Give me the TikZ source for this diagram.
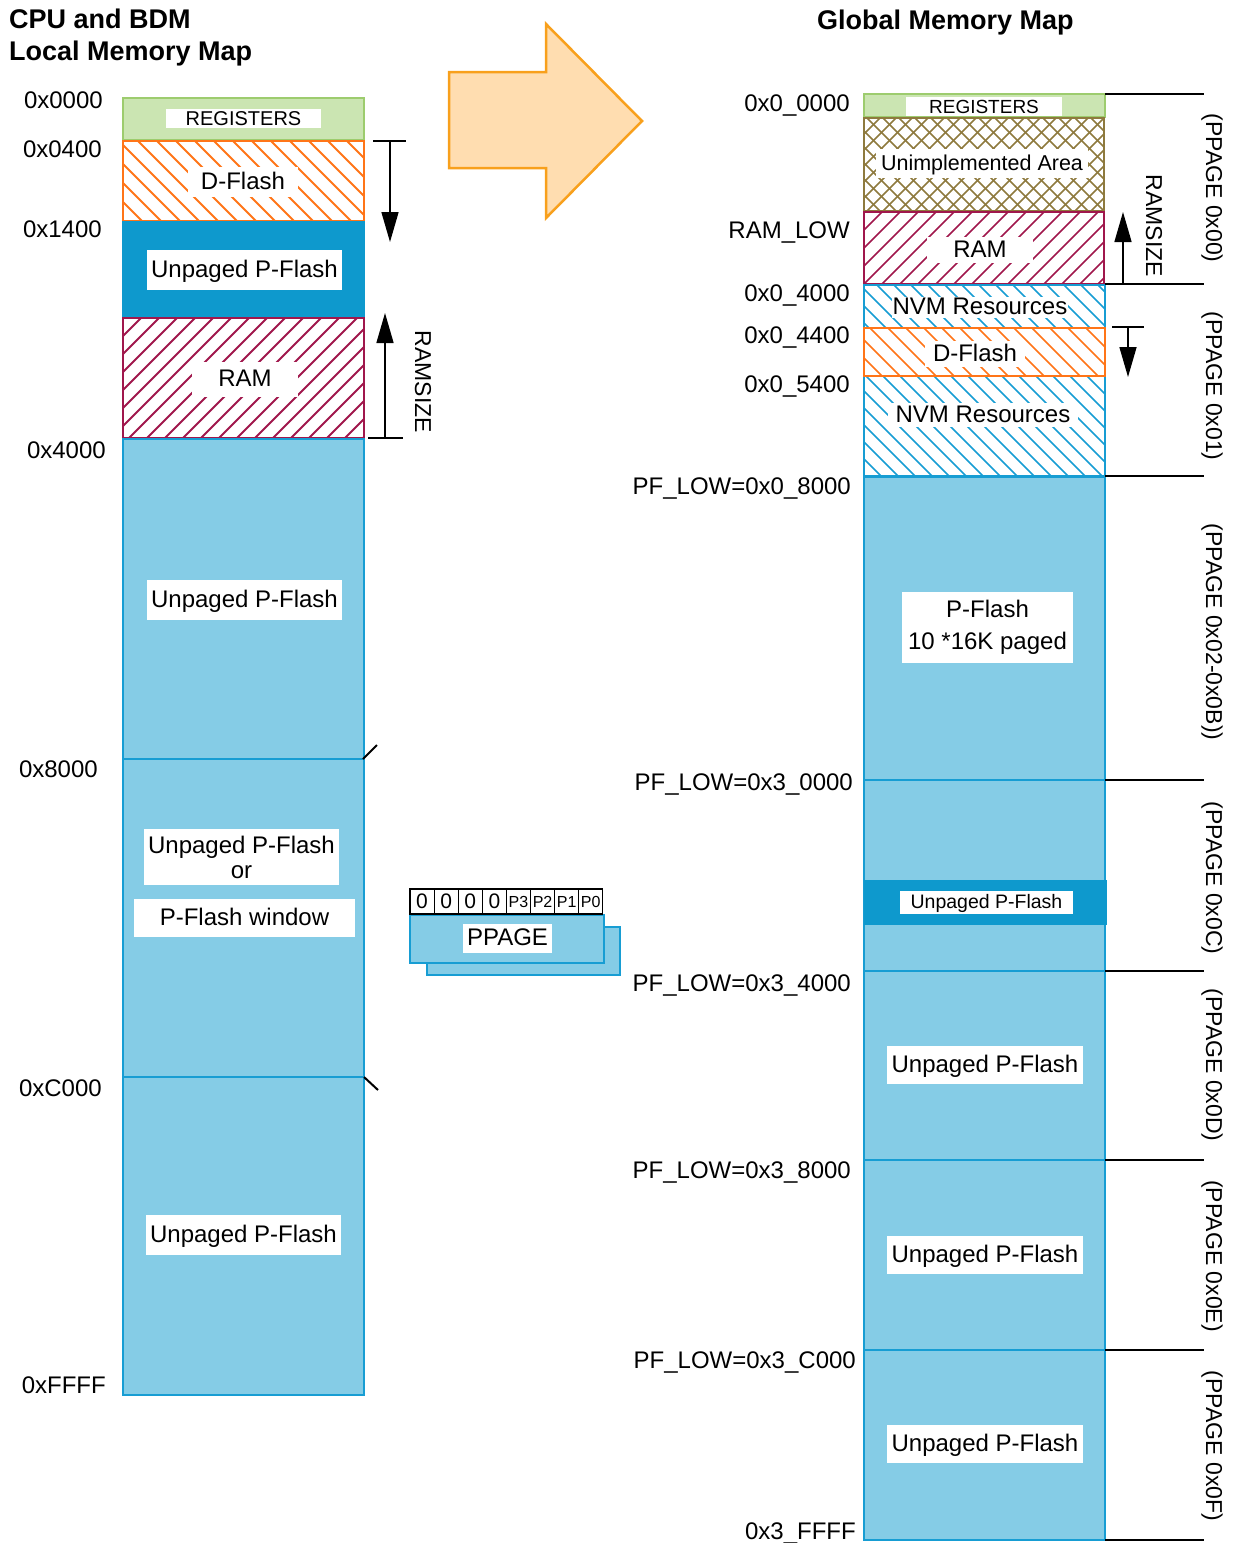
\documentclass[tikz,border=0pt]{standalone}
\usepackage{fontspec}
\setmainfont{Liberation Sans}
\usetikzlibrary{arrows.meta}
\definecolor{lblue}{HTML}{85CCE6}
\definecolor{bblue}{HTML}{179DD3}
\definecolor{dblue}{HTML}{0E99CD}
\definecolor{gfill}{HTML}{CBE5B2}
\definecolor{gline}{HTML}{9DCC6E}
\definecolor{orng}{HTML}{FF7518}
\definecolor{crim}{HTML}{A0174C}
\definecolor{olive}{HTML}{8E7A3E}
\definecolor{afill}{HTML}{FFDDB0}
\definecolor{aline}{HTML}{F8A01C}
\newcommand{\hatchrect}[7]{%
 \begin{scope}
 \clip (#1,#2) rectangle (#3,#4);
 \pgfmathsetmacro{\hh}{#4-#2}
 \pgfmathsetmacro{\sa}{#1-\hh}
 \pgfmathsetmacro{\sb}{#1-\hh+#6}
 \foreach \a in {\sa,\sb,...,#3} {
   \ifnum#7=2\relax\else \draw[#5] (\a,#2) -- ++(\hh,\hh);\fi
   \ifnum#7=1\relax\else \draw[#5] (\a,#4) -- ++(\hh,-\hh);\fi
 }
 \end{scope}}
\tikzset{
 addr/.style={font=\fontsize{24}{26}\selectfont, anchor=base east, inner sep=0},
 lbl/.style={fill=white, inner sep=0, align=center, font=\fontsize{24}{26}\selectfont, text height=17pt, text depth=2.5pt},
 mlbl/.style={fill=white, inner sep=0, align=center},
 boxline/.style={line width=2.5pt},
 lightbox/.style={fill=lblue, draw=bblue, line width=2.5pt},
 blk/.style={line width=1.5pt, black},
 arr/.style={line width=1.5pt, black, -{Triangle[length=30pt,width=17pt]}},
 pglbl/.style={rotate=-90, font=\fontsize{23}{25}\selectfont, inner sep=0},
 ttl/.style={font=\fontsize{27}{29}\selectfont\bfseries, anchor=base west, inner sep=0},
 bitcell/.style={draw, line width=1.2pt, fill=white, minimum width=24.1pt, minimum height=25pt, inner sep=0}
}
\begin{document}
\begin{tikzpicture}[x=1pt,y=-1pt]
\useasboundingbox (0,0) rectangle (1234,1543);

% titles
\node[ttl] (t1) at (9,28) {CPU and BDM};
\node[ttl] (t2) at (9,60) {Local Memory Map};
\node[ttl] (t3) at (817,29) {Global Memory Map};

% ---------- left column ----------
\filldraw[fill=gfill, draw=gline, boxline] (123,98) rectangle (364,140);
\hatchrect{123}{141}{364}{221}{orng, line width=2pt}{19}{1}
\draw[orng, boxline] (123,141) rectangle (364,221);
\filldraw[fill=dblue, draw=dblue, boxline] (123,222) rectangle (364,317);
\hatchrect{123}{318}{364}{438}{crim, line width=2pt}{18}{2}
\draw[crim, boxline] (123,318) rectangle (364,438);
\draw[lightbox] (123,439) rectangle (364,759);
\draw[lightbox] (123,759) rectangle (364,1077);
\draw[lightbox] (123,1077) rectangle (364,1395);

\node[lbl, minimum width=155pt, minimum height=19pt, font=\fontsize{20}{20}\selectfont, text height=14pt, text depth=0pt] (lreg) at (243.5,118.5) {REGISTERS};
\node[lbl, minimum width=110pt, minimum height=30pt] (ldf) at (243,182) {D-Flash};
\node[lbl, minimum width=195pt, minimum height=40pt] (lup0) at (244.5,270) {Unpaged P-Flash};
\node[lbl, minimum width=106pt, minimum height=35pt] (lram) at (245,379.5) {RAM};
\node[lbl, minimum width=195pt, minimum height=40pt] (lup1) at (244.5,600) {Unpaged P-Flash};
\node[mlbl, minimum width=195pt, minimum height=56pt, font=\fontsize{24}{25}\selectfont] (lup2) at (241.5,857) {Unpaged P-Flash\\or};
\node[lbl, minimum width=221pt, minimum height=38pt] (lwin) at (244.5,918) {P-Flash window};
\node[lbl, minimum width=195pt, minimum height=40pt] (lup3) at (243.5,1235) {Unpaged P-Flash};

% left addresses
\node[addr] (a1) at (103,108) {0x0000};
\node[addr] (a2) at (102,157) {0x0400};
\node[addr] (a3) at (102,237) {0x1400};
\node[addr] (a4) at (106,458) {0x4000};
\node[addr] (a5) at (98,777) {0x8000};
\node[addr] (a6) at (102,1096) {0xC000};
\node[addr] (a7) at (106,1393) {0xFFFF};

% ticks
\coordinate (k1a) at (363,759); \coordinate (k1b) at (377,745);
\coordinate (k2a) at (364,1077); \coordinate (k2b) at (378,1090);
\draw[line width=2pt] (k1a) -- (k1b);
\draw[line width=2pt] (k2a) -- (k2b);

% left D-Flash arrow
\coordinate (d1a) at (373,141); \coordinate (d1b) at (406,141);
\coordinate (d1s) at (390,141); \coordinate (d1e) at (390,242);
\draw[blk] (d1a) -- (d1b);
\draw[arr] (d1s) -- (d1e);
% left RAMSIZE arrow
\coordinate (r1a) at (368,438); \coordinate (r1b) at (403,438);
\coordinate (r1s) at (385,438); \coordinate (r1e) at (385,313);
\draw[blk] (r1a) -- (r1b);
\draw[arr] (r1s) -- (r1e);
\node[rotate=-90, font=\fontsize{23}{25}\selectfont, inner sep=0] (rs1) at (423,382) {RAMSIZE};

% big orange arrow
\filldraw[fill=afill, draw=aline, line width=2.5pt] (449,72) -- (546,72) -- (546,24) -- (642,121) -- (546,218) -- (546,168) -- (449,168) -- cycle;

% PPAGE register
\draw[lightbox] (427,927) rectangle (620,975);
\draw[lightbox] (410,915) rectangle (604,963);
\node[lbl, minimum width=89pt, minimum height=29pt] (pp) at (507.5,938.5) {PPAGE};
\foreach \i/\t/\f in {1/0/21,2/0/21,3/0/21,4/0/21,5/P3/16,6/P2/16,7/P1/16,8/P0/16}{
  \node[bitcell, font=\fontsize{\f}{\f}\selectfont] (bit\i) at ({410+24.1*(\i-0.5)},901.5) {\t};
}

% ---------- right column ----------
\filldraw[fill=gfill, draw=gline, boxline] (864,94) rectangle (1105,117);
\hatchrect{864}{118}{1104}{211}{olive, line width=1.6pt}{16}{3}
\draw[olive, boxline] (864,118) rectangle (1104,211);
\hatchrect{864}{212}{1104}{284}{crim, line width=1.6pt}{18}{2}
\draw[crim, boxline] (864,212) rectangle (1104,284);
\hatchrect{864}{285}{1105}{476}{bblue, line width=1.6pt}{17}{1}
\draw[bblue, boxline] (864,285) rectangle (1105,476);
\fill[white] (864,328) rectangle (1105,376);
\hatchrect{864}{328}{1105}{376}{orng, line width=1.6pt}{18}{1}
\draw[orng, boxline] (864,328) rectangle (1105,376);

\draw[lightbox] (864,477) rectangle (1105,780);
\draw[lightbox] (864,780) rectangle (1105,971);
\fill[dblue] (864,880) rectangle (1107,925);
\draw[lightbox] (864,971) rectangle (1105,1160);
\draw[lightbox] (864,1160) rectangle (1105,1350);
\draw[lightbox] (864,1350) rectangle (1105,1540);

\node[lbl, minimum width=156pt, minimum height=19pt, font=\fontsize{19}{20}\selectfont, text height=14pt, text depth=0pt] (rreg) at (984,106.5) {REGISTERS};
\node[lbl, minimum width=212pt, minimum height=29pt, font=\fontsize{21.5}{23}\selectfont, text height=16pt, text depth=2pt] (run) at (982,163) {Unimplemented Area};
\node[lbl, minimum width=106pt, minimum height=26pt] (rram) at (980,250) {RAM};
\node[lbl, minimum width=176pt, minimum height=21pt] (rnvm1) at (980,307.5) {NVM Resources};
\node[lbl, minimum width=100pt, minimum height=26pt] (rdf) at (975,354) {D-Flash};
\node[lbl, minimum width=190pt, minimum height=24pt] (rnvm2) at (983,415) {NVM Resources};
\node[mlbl, minimum width=171pt, minimum height=71pt, font=\fontsize{24}{32}\selectfont] (rpf) at (987.5,627.5) {P-Flash\\10 *16K paged};
\node[lbl, minimum width=173pt, minimum height=23pt, font=\fontsize{19.5}{20}\selectfont, text height=14pt, text depth=2pt] (rup0) at (986.5,902.5) {Unpaged P-Flash};
\node[lbl, minimum width=196pt, minimum height=38pt] (rup1) at (985,1065) {Unpaged P-Flash};
\node[lbl, minimum width=196pt, minimum height=38pt] (rup2) at (985,1255) {Unpaged P-Flash};
\node[lbl, minimum width=196pt, minimum height=38pt] (rup3) at (985,1444) {Unpaged P-Flash};

% right addresses
\node[addr] (b1) at (850,111) {0x0\_0000};
\node[addr] (b2) at (850,238) {RAM\_LOW};
\node[addr] (b3) at (850,301) {0x0\_4000};
\node[addr] (b4) at (850,343) {0x0\_4400};
\node[addr] (b5) at (850,392) {0x0\_5400};
\node[addr] (b6) at (851,494) {PF\_LOW=0x0\_8000};
\node[addr] (b7) at (853,790) {PF\_LOW=0x3\_0000};
\node[addr] (b8) at (851,991) {PF\_LOW=0x3\_4000};
\node[addr] (b9) at (851,1178) {PF\_LOW=0x3\_8000};
\node[addr] (b10) at (856,1368) {PF\_LOW=0x3\_C000};
\node[addr] (b11) at (856,1539) {0x3\_FFFF};

% right page boundary lines
\foreach \n/\yy in {1/94,2/284,3/476,4/780,5/971,6/1160,7/1350,8/1540}{
  \coordinate (pa\n) at (1105,\yy); \coordinate (pb\n) at (1204,\yy);
  \draw[blk] (pa\n) -- (pb\n);
}

% right RAMSIZE arrow
\coordinate (r2s) at (1123,284); \coordinate (r2e) at (1123,212);
\draw[arr] (r2s) -- (r2e);
\node[rotate=-90, font=\fontsize{23}{25}\selectfont, inner sep=0] (rs2) at (1154,226) {RAMSIZE};
% right D-Flash arrow
\coordinate (d2a) at (1112,327); \coordinate (d2b) at (1144,327);
\coordinate (d2s) at (1128,327); \coordinate (d2e) at (1128,377);
\draw[blk] (d2a) -- (d2b);
\draw[arr] (d2s) -- (d2e);

% page labels
\node[pglbl] (p0) at (1212,188) {(PPAGE 0x00)};
\node[pglbl] (p1) at (1212,386) {(PPAGE 0x01)};
\node[pglbl] (p2) at (1212,632) {(PPAGE 0x02-0x0B))};
\node[pglbl] (p3) at (1212,878) {(PPAGE 0x0C)};
\node[pglbl] (p4) at (1212,1065) {(PPAGE 0x0D)};
\node[pglbl] (p5) at (1212,1256) {(PPAGE 0x0E)};
\node[pglbl] (p6) at (1212,1446) {(PPAGE 0x0F)};
\end{tikzpicture}
\end{document}
